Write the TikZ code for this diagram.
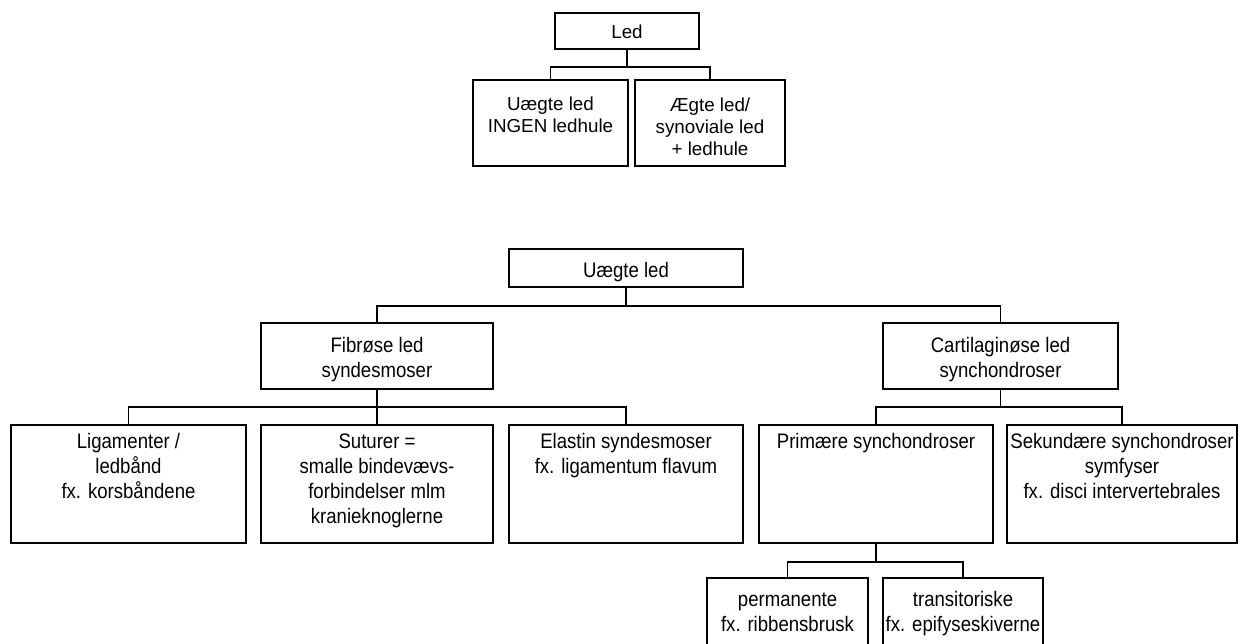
\documentclass[tikz,border=0pt]{standalone}
\usepackage{fontspec}
\setmainfont{Liberation Sans}
\newfontfamily\narrowsans[FakeStretch=0.885]{Liberation Sans}

\tikzset{
  box/.style={draw, line width=1.8pt, inner sep=0pt, outer sep=0pt, anchor=north west},
  toptext/.style={inner sep=0pt, anchor=north, align=center,
    font=\fontsize{18.8}{22}\selectfont},
  lowtext/.style={inner sep=0pt, anchor=north, align=center,
    font=\narrowsans\fontsize{21}{25}\selectfont},
  link/.style={line width=1.6pt},
}

\begin{document}
\begin{tikzpicture}[x=1pt, y=-1pt]
  \useasboundingbox[fill=white] (0,0) rectangle (1244,643);
  \clip (0,0) rectangle (1244,643);

  % upper tree: Led
  \node[box, minimum width=144pt, minimum height=36pt] (led) at (555,13) {};
  \node[box, minimum width=155pt, minimum height=86pt] (uaegteA) at (473,80) {};
  \node[box, minimum width=150pt, minimum height=86pt] (aegte) at (635,80) {};

  \node[toptext] (ledT) at ([yshift=-9.6pt]led.north) {\strut Led};
  \node[toptext] (uaegteAT) at ([yshift=-14.6pt]uaegteA.north) {\strut Uægte led\\INGEN ledhule};
  \node[toptext] (aegteT) at ([yshift=-15.6pt]aegte.north) {\strut Ægte led/\\synoviale led\\+ ledhule};

  \draw[link] (led.south) -- ++(0,18) -| (uaegteA.north);
  \draw[link] (led.south) -- ++(0,18) -| (aegte.north);

  % lower tree: Uægte led
  \node[box, minimum width=234pt, minimum height=38pt] (uaegte) at (509,249) {};
  \node[box, minimum width=232pt, minimum height=66pt] (fib) at (261,323) {};
  \node[box, minimum width=235pt, minimum height=66pt] (cart) at (883,323) {};

  \node[box, minimum width=235pt, minimum height=118pt] (lig) at (11,425) {};
  \node[box, minimum width=232pt, minimum height=118pt] (sut) at (261,425) {};
  \node[box, minimum width=234pt, minimum height=118pt] (ela) at (509,425) {};
  \node[box, minimum width=234pt, minimum height=118pt] (prim) at (759,425) {};
  \node[box, minimum width=230pt, minimum height=118pt] (sek) at (1007,425) {};

  \node[box, minimum width=161pt, minimum height=80pt] (perm) at (707,578) {};
  \node[box, minimum width=160pt, minimum height=80pt] (trans) at (883,578) {};

  \node[lowtext] (uaegteT) at ([yshift=-10.5pt]uaegte.north) {\strut Uægte led};
  \node[lowtext] (fibT) at ([yshift=-11.5pt]fib.north) {\strut Fibrøse led\\syndesmoser};
  \node[lowtext] (cartT) at ([yshift=-11.5pt]cart.north) {\strut Cartilaginøse led\\synchondroser};
  \node[lowtext] (ligT) at ([yshift=-5.5pt]lig.north) {\strut Ligamenter /\\ledbånd\\fx. korsbåndene};
  \node[lowtext] (sutT) at ([yshift=-5.5pt]sut.north) {\strut Suturer =\\smalle bindevævs-\\forbindelser mlm\\kranieknoglerne};
  \node[lowtext] (elaT) at ([yshift=-5.5pt]ela.north) {\strut Elastin syndesmoser\\fx. ligamentum flavum};
  \node[lowtext] (primT) at ([yshift=-5.5pt]prim.north) {\strut Primære synchondroser};
  \node[lowtext] (sekT) at ([yshift=-5.5pt]sek.north) {\strut Sekundære synchondroser\\symfyser\\fx. disci intervertebrales};
  \node[lowtext] (permT) at ([yshift=-10.5pt]perm.north) {\strut permanente\\fx. ribbensbrusk};
  \node[lowtext] (transT) at ([yshift=-10.5pt]trans.north) {\strut transitoriske\\fx. epifyseskiverne};

  \draw[link] (uaegte.south) -- ++(0,19) -| (fib.north);
  \draw[link] (uaegte.south) -- ++(0,19) -| (cart.north);

  \draw[link] (fib.south) -- ++(0,18) -| (lig.north);
  \draw[link] (fib.south) -- (sut.north);
  \draw[link] (fib.south) -- ++(0,18) -| (ela.north);

  \draw[link] (cart.south) -- ++(0,18) -| (prim.north);
  \draw[link] (cart.south) -- ++(0,18) -| (sek.north);

  \draw[link] (prim.south) -- ++(0,19) -| (perm.north);
  \draw[link] (prim.south) -- ++(0,19) -| (trans.north);
\end{tikzpicture}
\end{document}
